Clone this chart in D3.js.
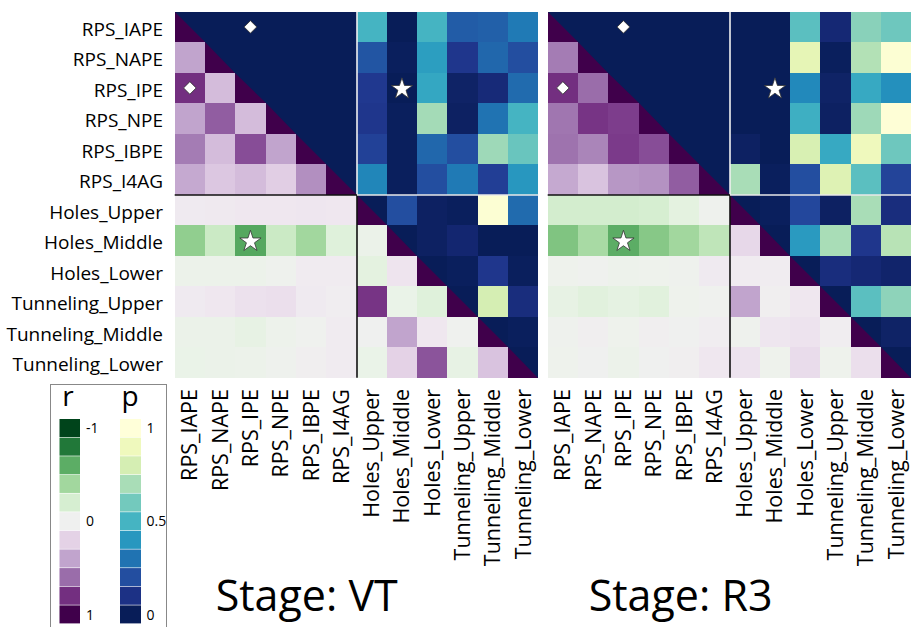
<!DOCTYPE html>
<html>
<head>
<meta charset="utf-8">
<script src="https://cdn.jsdelivr.net/npm/d3@7"></script>
<style>
  body { margin: 0; background: #fff; }
  svg { display: block; font-family: "Open Sans", "Noto Sans", sans-serif; }
</style>
</head>
<body>
<svg width="911" height="627"></svg>
<script>
// variables (same order for rows and columns)
const labels = ['RPS_IAPE', 'RPS_NAPE', 'RPS_IPE', 'RPS_NPE', 'RPS_IBPE', 'RPS_I4AG',
    'Holes_Upper', 'Holes_Middle', 'Holes_Lower', 'Tunneling_Upper', 'Tunneling_Middle', 'Tunneling_Lower'];

// r, lower triangle: row i holds columns 0..i-1
const rVT = [
    [],
    [0.40],
    [0.80, 0.30],
    [0.40, 0.65, 0.30],
    [0.55, 0.30, 0.70, 0.40],
    [0.38, 0.25, 0.30, 0.22, 0.48],
    [0.06, 0.07, 0.08, 0.08, 0.09, 0.08],
    [-0.45, -0.25, -0.62, -0.25, -0.40, -0.15, -0.06],
    [-0.05, -0.05, -0.05, -0.02, 0.05, 0.05, -0.12, 0.10],
    [0.06, 0.08, 0.12, 0.13, 0.06, 0.03, 0.78, -0.07, -0.15],
    [-0.06, -0.06, -0.10, -0.04, -0.01, 0.05, 0.00, 0.40, 0.08, -0.01],
    [-0.07, -0.06, -0.05, -0.02, 0.02, 0.05, -0.07, 0.20, 0.68, -0.10, 0.27]
];
// p, upper triangle: row i holds columns i+1..11
const pVT = [
    [0, 0, 0, 0, 0, 0.50, 0.00, 0.50, 0.24, 0.25, 0.32],
    [0, 0, 0, 0, 0.22, 0.01, 0.42, 0.12, 0.27, 0.20],
    [0, 0, 0, 0.13, 0.00, 0.45, 0.03, 0.07, 0.28],
    [0, 0, 0.12, 0.01, 0.69, 0.02, 0.30, 0.50],
    [0, 0.16, 0.01, 0.27, 0.20, 0.68, 0.58],
    [0.35, 0.01, 0.20, 0.32, 0.15, 0.40],
    [0.20, 0.02, 0.01, 0.98, 0.28],
    [0.02, 0.05, 0.00, 0.00],
    [0.01, 0.12, 0.01],
    [0.80, 0.08],
    [0.01],
    []
];

const rR3 = [
    [],
    [0.55],
    [0.80, 0.60],
    [0.57, 0.78, 0.75],
    [0.58, 0.52, 0.76, 0.70],
    [0.38, 0.27, 0.45, 0.47, 0.65],
    [-0.21, -0.21, -0.21, -0.20, -0.12, -0.02],
    [-0.50, -0.38, -0.60, -0.48, -0.40, -0.30, 0.17],
    [-0.03, -0.01, -0.04, -0.03, -0.02, 0.06, 0.05, 0.04],
    [-0.10, -0.14, -0.11, -0.14, -0.03, -0.01, 0.40, 0.02, 0.08],
    [-0.02, 0.02, -0.03, 0.02, 0.00, 0.03, -0.02, 0.09, 0.11, 0.03],
    [-0.03, 0.00, -0.05, 0.00, 0.02, 0.08, 0.11, -0.03, 0.15, -0.03, 0.13]
];
const pR3 = [
    [0, 0, 0, 0, 0, 0.00, 0.00, 0.55, 0.06, 0.64, 0.59],
    [0, 0, 0, 0, 0.00, 0.00, 0.86, 0.01, 0.72, 0.98],
    [0, 0, 0, 0.00, 0.00, 0.36, 0.03, 0.46, 0.38],
    [0, 0, 0.00, 0.00, 0.48, 0.02, 0.68, 0.99],
    [0, 0.02, 0.00, 0.81, 0.46, 0.90, 0.59],
    [0.70, 0.01, 0.20, 0.83, 0.55, 0.17],
    [0.01, 0.18, 0.02, 0.70, 0.08],
    [0.41, 0.70, 0.12, 0.73],
    [0.08, 0.06, 0.04],
    [0.55, 0.65],
    [0.03],
    []
];

// marked pairs [row, col]
const diamonds = [[0, 2], [2, 0]];
const stars = [[2, 7], [7, 2]];

const stages = [
    {name: 'Stage: VT', r: rVT, p: pVT, x0: 174.7},
    {name: 'Stage: R3', r: rR3, p: pR3, x0: 547.7}
];

// legend bins
const rBins = d3.range(11);
const rTicks = [[0, '-1'], [5, '0'], [10, '1']];
const pTicks = [[0, '1'], [5, '0.5'], [10, '0']];

const CW = 30.3, CH = 30.5, Y0 = 11.7, N = labels.length;
const NAVY = '#081d58', DPURPLE = '#40004b';

const rColor = r => d3.interpolatePRGn((1 - r) / 2);
const pColor = p => d3.interpolateYlGnBu(1 - p);

const svg = d3.select('svg');
const y = d3.scaleBand().domain(d3.range(N)).range([Y0, Y0 + N * CH]);

stages.forEach(function (st) {
    const x = d3.scaleBand().domain(d3.range(N)).range([st.x0, st.x0 + N * CW]);
    const g = svg.append('g');

    let cells = [];
    st.r.forEach((row, i) => row.forEach((v, j) => cells.push({i: i, j: j, c: rColor(v)})));
    st.p.forEach((row, i) => row.forEach((v, k) => cells.push({i: i, j: i + 1 + k, c: pColor(v)})));
    // diagonal base (upper-right half p = 0)
    d3.range(N).forEach(k => cells.push({i: k, j: k, c: NAVY}));

    g.selectAll('rect.cell').data(cells).join('rect')
        .attr('class', 'cell')
        .attr('x', d => Math.round(x(d.j)))
        .attr('y', d => Math.round(y(d.i)))
        .attr('width', d => Math.round(x(d.j) + CW) - Math.round(x(d.j)))
        .attr('height', d => Math.round(y(d.i) + CH) - Math.round(y(d.i)))
        .attr('shape-rendering', 'crispEdges')
        .attr('fill', d => d.c);

    // diagonal: lower-left half r = 1
    d3.range(N).forEach(function (k) {
        const x1 = Math.round(x(k)), y1 = Math.round(y(k));
        const x2 = Math.round(x(k) + CW), y2 = Math.round(y(k) + CH);
        g.append('polygon')
            .attr('points', `${x1},${y1} ${x1},${y2} ${x2},${y2}`)
            .attr('fill', DPURPLE);
    });

    // block separators
    const xm = Math.round(x(6)), ym = Math.round(y(6));
    const xe = st.x0 + N * CW, ye = Y0 + N * CH;
    [[xm, Y0, xm, ym, '#f0f0f0'], [xm, ym, xm, ye, '#111'],
     [st.x0, ym, xm, ym, '#111'], [xm, ym, xe, ym, '#e8e8e8']].forEach(function (l) {
        g.append('line')
            .attr('x1', l[0]).attr('y1', l[1])
            .attr('x2', l[2]).attr('y2', l[3])
            .attr('stroke', l[4])
            .attr('stroke-width', 1.6);
    });

    // markers
    g.selectAll('path.diamond').data(diamonds).join('path')
        .attr('class', 'diamond')
        .attr('d', d3.symbol(d3.symbolSquare, 80))
        .attr('transform', d => `translate(${x(d[1]) + CW / 2},${y(d[0]) + CH / 2}) rotate(45)`)
        .attr('fill', '#fff')
        .attr('stroke', '#333')
        .attr('stroke-width', 0.8);

    g.selectAll('path.star').data(stars).join('path')
        .attr('class', 'star')
        .attr('d', d3.symbol(d3.symbolStar, 140))
        .attr('transform', d => `translate(${x(d[1]) + CW / 2},${y(d[0]) + CH / 2 + 1})`)
        .attr('fill', '#fff')
        .attr('stroke', '#333')
        .attr('stroke-width', 0.8);

    // column labels
    g.selectAll('text.xl').data(labels).join('text')
        .attr('class', 'xl')
        .attr('transform', (d, i) => `translate(${x(i) + CW / 2},389) rotate(-90)`)
        .attr('text-anchor', 'end')
        .attr('dy', '0.35em')
        .attr('font-size', 21.5)
        .attr('fill', '#000')
        .text(d => d);

    g.append('text')
        .attr('x', st.x0 + 41)
        .attr('y', 611)
        .attr('font-size', 43)
        .attr('fill', '#000')
        .text(st.name);
});

// row labels
svg.selectAll('text.yl').data(labels).join('text')
    .attr('class', 'yl')
    .attr('x', 163)
    .attr('y', (d, i) => y(i) + CH / 2 + 2)
    .attr('text-anchor', 'end')
    .attr('dy', '0.35em')
    .attr('font-size', 19)
    .attr('fill', '#000')
    .text(d => d);

// legend
const leg = svg.append('g');
leg.append('rect')
    .attr('x', 50.5).attr('y', 384.5)
    .attr('width', 116).attr('height', 260)
    .attr('fill', '#fff')
    .attr('stroke', '#888');

const ly = d3.scaleBand().domain(rBins).range([419, 624]);
leg.selectAll('rect.rb').data(rBins).join('rect')
    .attr('class', 'rb')
    .attr('x', 59.5).attr('y', d => ly(d))
    .attr('width', 20.5).attr('height', ly.bandwidth() - 0.6)
    .attr('fill', d => rColor(-1 + d * 0.2));
leg.selectAll('rect.pb').data(rBins).join('rect')
    .attr('class', 'pb')
    .attr('x', 120).attr('y', d => ly(d))
    .attr('width', 21).attr('height', ly.bandwidth() - 0.6)
    .attr('fill', d => pColor(1 - d * 0.1));

leg.append('text').attr('x', 68).attr('y', 406).attr('text-anchor', 'middle')
    .attr('font-size', 28).text('r');
leg.append('text').attr('x', 130).attr('y', 406).attr('text-anchor', 'middle')
    .attr('font-size', 28).text('p');

leg.selectAll('text.rt').data(rTicks).join('text')
    .attr('class', 'rt')
    .attr('x', 86).attr('y', d => ly(d[0]) + ly.bandwidth() / 2)
    .attr('dy', '0.35em').attr('font-size', 14).text(d => d[1]);
leg.selectAll('text.pt').data(pTicks).join('text')
    .attr('class', 'pt')
    .attr('x', 146.5).attr('y', d => ly(d[0]) + ly.bandwidth() / 2)
    .attr('dy', '0.35em').attr('font-size', 14).text(d => d[1]);
</script>
</body>
</html>
